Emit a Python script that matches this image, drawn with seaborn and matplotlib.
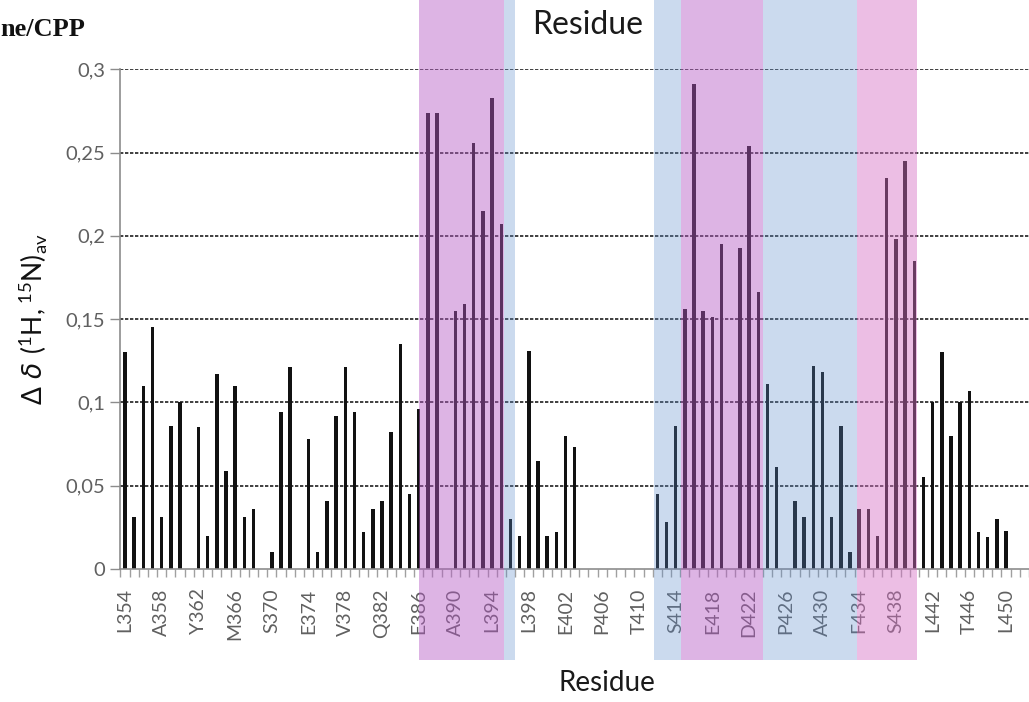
import numpy as np
import pandas as pd
import matplotlib
matplotlib.use("Agg")
import matplotlib.pyplot as plt
import matplotlib.transforms as mtransforms
from matplotlib.patches import Rectangle
from matplotlib.ticker import FixedLocator, FuncFormatter
import seaborn as sns

# Residues 354..452 and the averaged chemical shift perturbation for each
residues = list(range(354, 453))
shift = [
    0.130, 0.031, 0.110, 0.145, 0.031, 0.086, 0.100, 0.000, 0.085, 0.020,
    0.117, 0.059, 0.110, 0.031, 0.036, 0.000, 0.010, 0.094, 0.121, 0.000,
    0.078, 0.010, 0.041, 0.092, 0.121, 0.094, 0.022, 0.036, 0.041, 0.082,
    0.135, 0.045, 0.096, 0.274, 0.274, 0.000, 0.155, 0.159, 0.256, 0.215,
    0.283, 0.207, 0.030, 0.020, 0.131, 0.065, 0.020, 0.022, 0.080, 0.073,
    0.000, 0.000, 0.000, 0.000, 0.000, 0.000, 0.000, 0.000, 0.045, 0.028,
    0.086, 0.156, 0.291, 0.155, 0.151, 0.195, 0.000, 0.193, 0.254, 0.166,
    0.111, 0.061, 0.000, 0.041, 0.031, 0.122, 0.118, 0.031, 0.086, 0.010,
    0.036, 0.036, 0.020, 0.235, 0.198, 0.245, 0.185, 0.055, 0.100, 0.130,
    0.080, 0.100, 0.107, 0.022, 0.019, 0.030, 0.023, 0.000, 0.000,
]

# Labelled residues (every fourth one)
tick_labels = ["L354", "A358", "Y362", "M366", "S370", "E374", "V378", "Q382",
               "E386", "A390", "L394", "L398", "E402", "P406", "T410", "S414",
               "E418", "D422", "P426", "A430", "F434", "S438", "L442", "T446",
               "L450"]

# Highlighted stretches (start residue, end residue, colour, opacity)
region_start = [386.0, 395.25, 411.6, 414.55, 423.5, 433.75]
region_end = [395.25, 396.5, 414.55, 423.5, 433.75, 440.3]
region_color = ["#b459c4", "#5e8ccb", "#5e8ccb", "#b459c4", "#5e8ccb", "#d56fc4"]
region_alpha = [0.45, 0.32, 0.32, 0.45, 0.32, 0.45]

df = pd.DataFrame({"residue": residues, "shift": shift})

sns.set_style("white")
plt.rcParams["font.family"] = ["Lato", "DejaVu Sans"]
plt.rcParams["mathtext.fontset"] = "custom"
plt.rcParams["mathtext.rm"] = "Lato"
plt.rcParams["mathtext.it"] = "DejaVu Sans:italic"

fig = plt.figure(figsize=(10.29, 7.02), dpi=100)
ax = fig.add_axes([0.117, 0.1895, 0.883, 0.7118])

sns.barplot(data=df, x="residue", y="shift", order=residues, color="#111111",
            width=0.38, saturation=1, ax=ax, zorder=2)
for p in ax.patches:
    p.set_edgecolor("none")

n = len(residues)
ax.set_xlim(-0.5, n - 0.5)
ax.set_ylim(0, 0.3)

# Dashed horizontal grid
yt = np.arange(0, 0.301, 0.05)
for y in yt[1:]:
    ax.axhline(y, color="#1f1f1f", lw=1.2, ls=(0, (2.0, 1.0)), zorder=1)

ax.yaxis.set_major_locator(FixedLocator(yt))
ax.yaxis.set_major_formatter(FuncFormatter(
    lambda v, pos: ("0" if abs(v) < 1e-9 else f"{v:.2f}".rstrip("0").replace(".", ","))))
ax.tick_params(axis="y", which="major", length=7, width=1, color="#8c8c8c",
               labelsize=14.5, labelcolor="#606060", pad=4, left=True)

first = residues[0]
label_pos = [int(lab[1:]) - first for lab in tick_labels]
ax.xaxis.set_major_locator(FixedLocator(label_pos))
ax.set_xticklabels(tick_labels, rotation=90)
ax.xaxis.set_minor_locator(FixedLocator(np.arange(-0.5, n, 1.0)))
ax.tick_params(axis="x", which="major", length=0, labelsize=14,
               labelcolor="#606060", pad=14, bottom=True)
ax.tick_params(axis="x", which="minor", length=6, width=1, color="#a0a0a0",
               bottom=True)

for side in ["top", "right"]:
    ax.spines[side].set_visible(False)
for side in ["left", "bottom"]:
    ax.spines[side].set_color("#8c8c8c")
    ax.spines[side].set_linewidth(1.2)

ax.set_xlabel("")
ax.set_ylabel(r"$\Delta\ \delta\ (^{1}\mathrm{H},^{15}\mathrm{N})_{\mathrm{av}}$",
              fontsize=19, color="#111111", labelpad=12)

# Translucent highlight bands over the bars, running into the label area
trans = mtransforms.blended_transform_factory(ax.transData, ax.transAxes)
for s, e, c, a in zip(region_start, region_end, region_color, region_alpha):
    ax.add_patch(Rectangle((s - first, -0.182), e - s, 1.35, transform=trans,
                           facecolor=c, edgecolor="none", alpha=a,
                           clip_on=False, zorder=5))

fig.text(0.5715, 0.9645, "Residue", fontsize=23, color="#1a1a1a",
         ha="center", va="center")
fig.text(0.590, 0.027, "Residue", fontsize=20, color="#1a1a1a",
         ha="center", va="center")
fig.text(0.0, 0.958, "ne/CPP", fontsize=19, fontweight="bold",
         family="Liberation Serif", color="#111111", ha="left", va="center")

fig.savefig("out.png", dpi=100)
